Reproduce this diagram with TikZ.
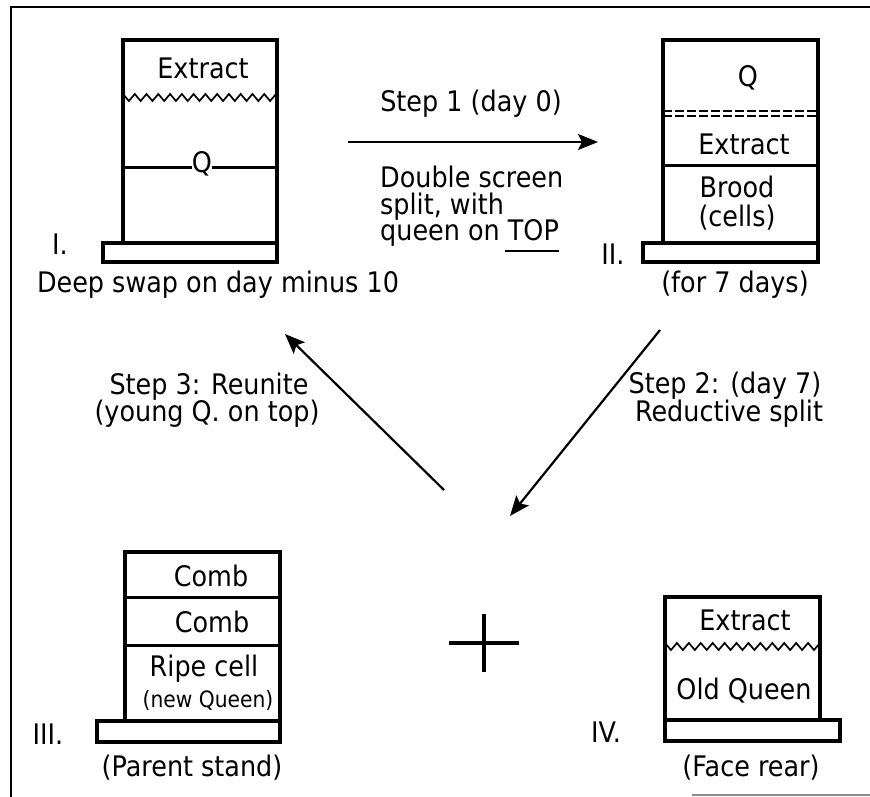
\documentclass[tikz,border=0pt]{standalone}
\usepackage{fontspec}
\setmainfont[FakeStretch=0.9]{DejaVu Sans}
\usetikzlibrary{arrows.meta}
\begin{document}
\begin{tikzpicture}[x=1pt,y=-1pt,
  txt/.style={font=\fontsize{28.3}{27}\selectfont, inner sep=0pt, anchor=base},
  small/.style={font=\fontsize{22.5}{24}\selectfont, inner sep=0pt, anchor=base},
  hive/.style={draw, line width=4pt, rectangle, inner sep=0pt, outer sep=0pt},
  part/.style={line width=3pt},
  zz/.style={line width=1.7pt},
  screen/.style={line width=1.8pt, dash pattern=on 9pt off 3pt},
  conn/.style={line width=2.2pt, -{Stealth[length=20pt,width=16pt,inset=4pt]}}]
\useasboundingbox (0,0) rectangle (870,797);
% frame
\draw[line width=2.2pt] (11,797) -- (11,7) -- (870,7);
\draw[line width=1.5pt, black!45] (692,795) -- (870,795);

% ---------- Hive I ----------
\node[hive, minimum width=154pt, minimum height=203pt] (b1) at (200,141.5) {};
\node[hive, minimum width=174pt, minimum height=19pt] (s1) at (190,252.5) {};
\node[txt] (e1) at (203,79) {Extract};
\draw[zz] (123,94) \foreach \i in {1,...,13} { -- ({123+(\i-0.5)*11.77},101) -- ({123+\i*11.77},94) };
\node[txt] (q1) at (202,172) {Q};
\draw[part] (b1.west |- 0,167) -- (q1.west |- 0,167);
\draw[part] (q1.east |- 0,167) -- (b1.east |- 0,167);
\node[txt] (n1) at (60,254) {I.};
\node[txt] (l1) at (218,292) {Deep swap on day minus 10};

% ---------- Step 1 ----------
\node[txt] (t1) at (471,112) {Step 1 (day 0)};
\coordinate (a1s) at (348,142);
\coordinate (a1e) at (598,142);
\draw[conn] (a1s) -- (a1e);
\node[txt, anchor=base west] (d1) at (380,187) {Double screen};
\node[txt, anchor=base west] (d2) at (380,214) {split, with};
\node[txt, anchor=base west] (d3) at (380,240) {queen on TOP};
\draw[line width=1.8pt] (d3.east |- 0,251) ++(-54,0) -- (d3.east |- 0,251);

% ---------- Hive II ----------
\node[hive, minimum width=155pt, minimum height=203pt] (b2) at (740.5,141.5) {};
\node[hive, minimum width=175pt, minimum height=19pt] (s2) at (730.5,252.5) {};
\node[txt] (q2) at (748,87) {Q};
\draw[screen] (b2.west |- 0,111) -- (b2.east |- 0,111);
\draw[screen] (b2.west |- 0,116) -- (b2.east |- 0,116);
\node[txt] (e2) at (744,154) {Extract};
\draw[part] (b2.west |- 0,165) -- (b2.east |- 0,165);
\node[txt] (br) at (737,197) {Brood};
\node[txt] (ce) at (737,226) {(cells)};
\node[txt] (n2) at (613,264) {II.};
\node[txt] (l2) at (735,292) {(for 7 days)};

% ---------- Step 2 ----------
\coordinate (a2s) at (660,330);
\coordinate (a2e) at (510,516);
\draw[conn] (a2s) -- (a2e);
\node[txt] (t2a) at (725,393) {Step 2: (day 7)};
\node[txt] (t2b) at (729,421) {Reductive split};

% ---------- Step 3 ----------
\coordinate (a3s) at (444,490);
\coordinate (a3e) at (285,334);
\draw[conn] (a3s) -- (a3e);
\node[txt] (t3a) at (209,394) {Step 3: Reunite};
\node[txt] (t3b) at (207,421) {(young Q. on top)};

% ---------- Hive III ----------
\node[hive, minimum width=155pt, minimum height=169pt] (b3) at (202.5,636.5) {};
\node[hive, minimum width=183pt, minimum height=21pt] (s3) at (188.5,731.5) {};
\draw[part] (b3.west |- 0,597) -- (b3.east |- 0,597);
\draw[part] (b3.west |- 0,645) -- (b3.east |- 0,645);
\node[txt] (c1) at (211,586) {Comb};
\node[txt] (c2) at (212,632) {Comb};
\node[txt] (rc) at (204,676) {Ripe cell};
\node[small] (nq) at (208,707) {(new Queen)};
\node[txt] (n3) at (48,744) {III.};
\node[txt] (l3) at (192,776) {(Parent stand)};

% ---------- plus ----------
\coordinate (pc) at (484,643);
\draw[line width=3.2pt] ([xshift=-35pt]pc) -- ([xshift=35pt]pc);
\draw[line width=3.2pt] ([yshift=-29pt]pc) -- ([yshift=29pt]pc);

% ---------- Hive IV ----------
\node[hive, minimum width=155pt, minimum height=123pt] (b4) at (742.5,658.5) {};
\node[hive, minimum width=175pt, minimum height=21pt] (s4) at (752.5,730.5) {};
\node[txt] (e4) at (745,630) {Extract};
\draw[zz] (665,643) \foreach \i in {1,...,13} { -- ({665+(\i-0.5)*11.92},650) -- ({665+\i*11.92},643) };
\node[txt] (oq) at (744,699) {Old Queen};
\node[txt] (n4) at (606,742) {IV.};
\node[txt] (l4) at (751,776) {(Face rear)};
\end{tikzpicture}
\end{document}
